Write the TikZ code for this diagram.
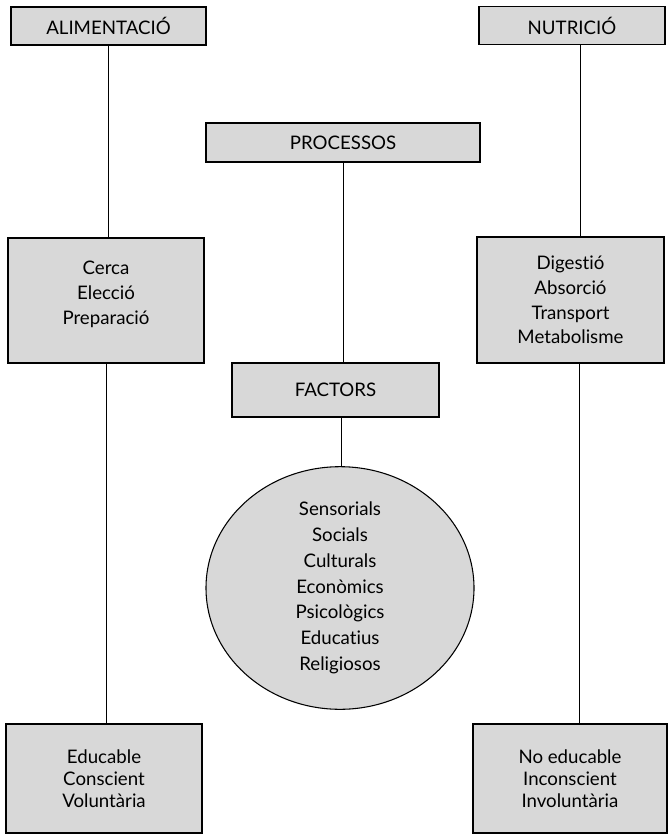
\documentclass[tikz,border=0pt]{standalone}
\usepackage{fontspec}
\setmainfont{Lato}[Ligatures=NoCommon]
\usetikzlibrary{shapes, arrows}
\definecolor{boxgray}{RGB}{216,216,216}

\begin{document}
\begin{tikzpicture}[x=0.75pt, y=-0.75pt]
        \tikzstyle{topbox} = [rectangle, minimum height = 28.5pt, text centered, draw=black, line width=0.8pt, fill=boxgray, font=\fontsize{14}{18}\selectfont]
        \tikzstyle{listbox} = [rectangle, align=center, draw=black, line width=0.8pt, fill=boxgray, font=\fontsize{14}{18.5}\selectfont]
        \tikzstyle{blob} = [ellipse, minimum width = 201pt, minimum height = 165pt, inner sep=0pt, align=center, draw=black, line width=0.8pt, fill=boxgray, font=\fontsize{14}{19.3}\selectfont]
        \tikzstyle{link} = [line width=0.6pt]

        \useasboundingbox (0,0) rectangle (667,834);

        \node (alim) [topbox, minimum width = 146.25pt] at (108.5,26) {ALIMENTACIÓ};
        \node (nutr) [topbox, minimum width = 139.5pt] at (572,25.5) {NUTRICIÓ};
        \node (proc) [topbox, minimum width = 205.5pt, minimum height = 29.25pt] at (343,142.5) {PROCESSOS};
        \node (cerca) [listbox, minimum width = 147pt, minimum height = 93.75pt] at (106,300.5) {Cerca\\Elecció\\Preparació\\[-7pt]\mbox{}};
        \node (dig) [listbox, minimum width = 140.25pt, minimum height = 94.5pt] at (570.5,300) {Digestió\\Absorció\\Transport\\Metabolisme};
        \node (fact) [topbox, minimum width = 155.25pt, minimum height = 40.5pt] at (335.5,390) {FACTORS};
        \node (ell) [blob] at (340,588) {Sensorials\\Socials\\Culturals\\Econòmics\\Psicològics\\Educatius\\Religiosos};
        \node (educ) [listbox, minimum width = 147pt, minimum height = 81.75pt, font=\fontsize{14}{16.5}\selectfont] at (104,778.5) {Educable\\Conscient\\Voluntària};
        \node (noeduc) [listbox, minimum width = 145.5pt, minimum height = 81.75pt, font=\fontsize{14}{16.5}\selectfont] at (570,778.5) {No educable\\Inconscient\\Involuntària};

        \draw[link] (alim) -- (alim |- cerca.north);
        \draw[link] (cerca) -- (cerca |- educ.north);
        \draw[link] ([xshift=6pt]nutr.south) -- ([xshift=6pt]nutr.south |- dig.north);
        \draw[link] ([xshift=7pt]dig.south) -- ([xshift=7pt]dig.south |- noeduc.north);
        \draw[link] (proc) -- (proc |- fact.north);
        \draw[link] ([xshift=4.5pt]fact.south) -- ([xshift=4.5pt]fact.south |- ell.north);

    \end{tikzpicture}
\end{document}
